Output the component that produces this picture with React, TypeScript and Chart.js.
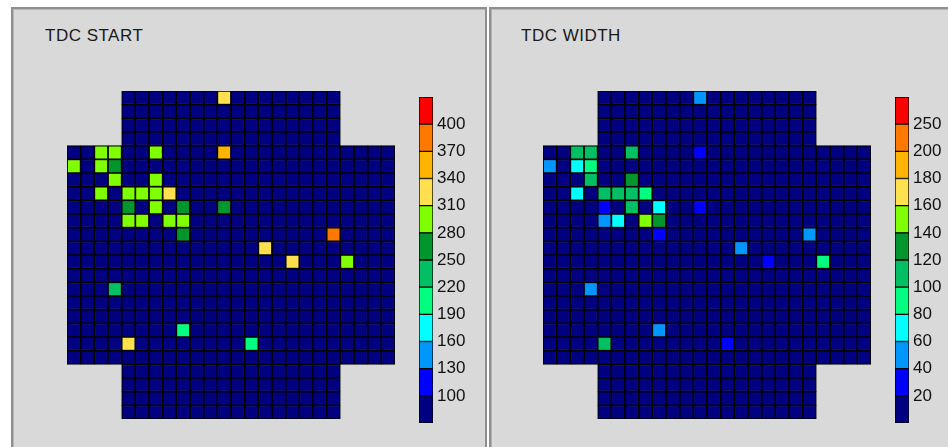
import React, { useEffect, useRef } from "react";
import { Chart, registerables } from "chart.js";
Chart.register(...registerables);

// ---------- data ----------
const COLUMNS = ["0","1","2","3","4","5","6","7","8","9","10","11","12","13","14","15","16","17","18","19","20","21","22","23"];
const ROW_FIRST_COL = [4,4,4,4,0,0,0,0,0,0,0,0,0,0,0,0,0,0,0,0,4,4,4,4];
const ROW_LAST_COL = [19,19,19,19,23,23,23,23,23,23,23,23,23,23,23,23,23,23,23,23,19,19,19,19];

const BIN_COLORS = ["#000080","#0000ff","#0096ff","#00ffff","#00ff80","#00c063","#00962d","#80ff00","#ffe150","#ffb400","#ff7800","#ff0000"];

const START_THRESHOLDS = [100,130,160,190,220,250,280,310,340,370,400];
const START_TICKS = ["100","130","160","190","220","250","280","310","340","370","400"];
const START_BASE = 85;
// [row, column, value]
const START_HITS: number[][] = [
  [0,11,325],
  [4,2,295],[4,3,295],[4,6,295],[4,11,355],
  [5,0,295],[5,2,295],[5,3,265],
  [6,3,295],[6,6,295],
  [7,2,295],[7,4,295],[7,5,295],[7,6,295],[7,7,325],
  [8,4,265],[8,6,295],[8,8,265],[8,11,265],
  [9,4,295],[9,5,295],[9,7,295],[9,8,295],
  [10,8,265],[10,19,385],
  [11,14,325],
  [12,16,325],[12,20,295],
  [14,3,235],
  [17,8,205],
  [18,4,325],[18,13,205],
];

const WIDTH_THRESHOLDS = [20,40,60,80,100,120,140,160,180,200,250];
const WIDTH_TICKS = ["20","40","60","80","100","120","140","160","180","200","250"];
const WIDTH_BASE = 10;
const WIDTH_HITS: number[][] = [
  [0,11,50],
  [4,2,110],[4,3,110],[4,6,110],[4,11,30],
  [5,0,50],[5,2,70],[5,3,90],
  [6,3,110],[6,6,130],
  [7,2,70],[7,4,110],[7,5,110],[7,6,110],[7,7,90],
  [8,4,30],[8,6,110],[8,8,70],[8,11,30],
  [9,4,50],[9,5,70],[9,7,150],[9,8,130],
  [10,8,30],[10,19,50],
  [11,14,50],
  [12,16,30],[12,20,90],
  [14,3,50],
  [17,8,50],
  [18,4,110],[18,13,30],
];

// ---------- helpers ----------
function colorFor(v: number, thresholds: number[]) {
  let i = 0;
  while (i < thresholds.length && v >= thresholds[i]) i++;
  return BIN_COLORS[i];
}

function Heatmap({ base, hits, thresholds, left }: any) {
  const ref = useRef<HTMLCanvasElement>(null);
  useEffect(() => {
    const datasets = ROW_FIRST_COL.map((first, r) => {
      const last = ROW_LAST_COL[r];
      const data = COLUMNS.map((_, c) => (c >= first && c <= last ? [r, r + 1] : null));
      const colors = COLUMNS.map((_, c) => {
        const hit = hits.find((h: number[]) => h[0] === r && h[1] === c);
        return colorFor(hit ? hit[2] : base, thresholds);
      });
      return { data, backgroundColor: colors } as any;
    });
    const chart = new Chart(ref.current!, {
      type: "bar",
      data: { labels: COLUMNS, datasets },
      options: {
        animation: false,
        responsive: false,
        maintainAspectRatio: false,
        layout: { padding: 0 },
        plugins: { legend: { display: false }, tooltip: { enabled: false } },
        datasets: {
          bar: {
            grouped: false,
            barPercentage: 1,
            categoryPercentage: 1,
            borderWidth: 1.2,
            borderColor: "#000000",
            borderSkipped: false,
          } as any,
        },
        scales: {
          x: { display: false },
          y: { display: false, min: 0, max: 24, reverse: true },
        },
      } as any,
    });
    return () => chart.destroy();
  }, []);
  return (
    <canvas
      ref={ref}
      width={328}
      height={328}
      style={{ position: "absolute", left, top: 91, width: 328, height: 328 }}
    />
  );
}

function ColorBar({ ticks, left }: any) {
  const ref = useRef<HTMLCanvasElement>(null);
  useEffect(() => {
    const datasets = BIN_COLORS.map((col) => ({ data: [1], backgroundColor: col })) as any;
    const chart = new Chart(ref.current!, {
      type: "bar",
      data: { labels: ["bar"], datasets },
      options: {
        animation: false,
        responsive: false,
        maintainAspectRatio: false,
        layout: { padding: 0 },
        plugins: { legend: { display: false }, tooltip: { enabled: false } },
        datasets: {
          bar: {
            barPercentage: 1,
            categoryPercentage: 1,
            borderWidth: 1,
            borderColor: "#000000",
            borderSkipped: false,
          } as any,
        },
        scales: {
          x: { display: false, stacked: true },
          y: {
            stacked: true,
            min: 0,
            max: 12,
            position: "right",
            grid: { display: false, drawTicks: false },
            border: { display: false },
            ticks: {
              stepSize: 1,
              autoSkip: false,
              padding: 4,
              color: "#111111",
              font: { size: 17, family: "'Liberation Sans', Arial, sans-serif" },
              callback: (v: any) => (v >= 1 && v <= ticks.length ? ticks[v - 1] : ""),
            },
            afterFit: (s: any) => {
              s.width = 38;
              s.paddingTop = 0;
              s.paddingBottom = 0;
            },
          },
        },
      } as any,
    });
    return () => chart.destroy();
  }, []);
  return (
    <canvas
      ref={ref}
      width={52}
      height={326}
      style={{ position: "absolute", left, top: 97, width: 52, height: 326 }}
    />
  );
}

const titleStyle: React.CSSProperties = {
  position: "absolute",
  top: 26,
  fontFamily: "'Liberation Sans', Arial, sans-serif",
  fontSize: 17,
  letterSpacing: 0.5,
  color: "#1a1a1a",
  whiteSpace: "nowrap",
};

export default function App() {
  return (
    <div style={{ position: "fixed", left: 0, top: 0, width: 948, height: 447, background: "#ffffff", overflow: "hidden" }}>
      <div
        style={{
          position: "absolute",
          left: 11,
          top: 7,
          width: 476,
          height: 440,
          boxSizing: "border-box",
          background: "#d9d9d9",
          borderTop: "2px solid #8f8f8f",
          borderLeft: "2px solid #8f8f8f",
          borderRight: "2px solid #8f8f8f",
          boxShadow: "inset 1px 1px 0 #b5b5b5",
        }}
      />
      <div
        style={{
          position: "absolute",
          left: 489,
          top: 7,
          width: 459,
          height: 440,
          boxSizing: "border-box",
          background: "#d9d9d9",
          borderTop: "2px solid #8f8f8f",
          borderLeft: "2px solid #8f8f8f",
          boxShadow: "inset 1px 1px 0 #b5b5b5",
        }}
      />
      <div style={{ ...titleStyle, left: 45 }}>TDC START</div>
      <div style={{ ...titleStyle, left: 521 }}>TDC WIDTH</div>
      <Heatmap base={START_BASE} hits={START_HITS} thresholds={START_THRESHOLDS} left={67} />
      <ColorBar ticks={START_TICKS} left={419} />
      <Heatmap base={WIDTH_BASE} hits={WIDTH_HITS} thresholds={WIDTH_THRESHOLDS} left={543} />
      <ColorBar ticks={WIDTH_TICKS} left={895} />
    </div>
  );
}
